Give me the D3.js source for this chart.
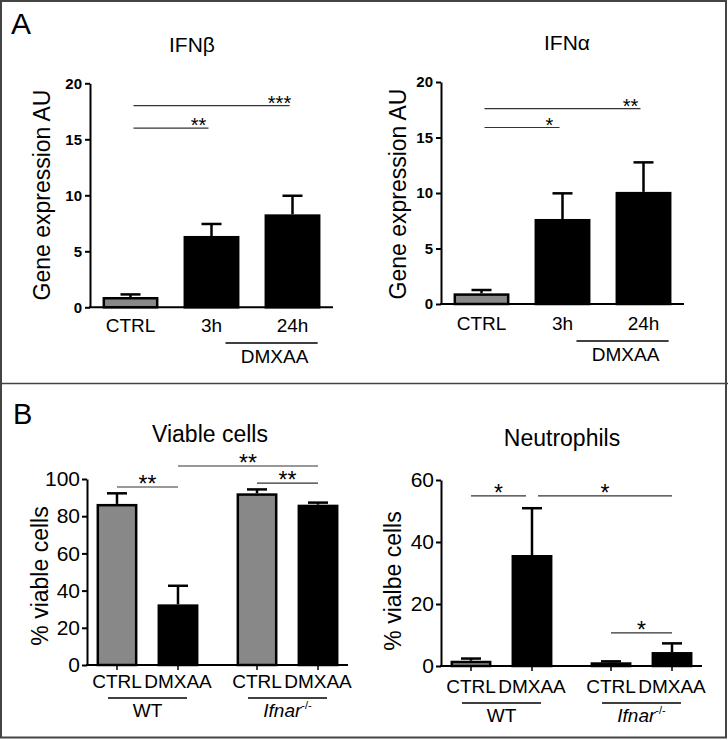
<!DOCTYPE html>
<html><head><meta charset="utf-8">
<script src="https://cdn.jsdelivr.net/npm/d3@7"></script>
<style>
body{margin:0;background:#fff}
svg{display:block}
text{font-family:"Liberation Sans",Arial,Helvetica,sans-serif;fill:#000}
</style>
</head><body>
<svg id="chart" width="728" height="740"></svg>
<script>
// ---------- DATA ----------
const ifnCategories = ["CTRL", "3h", "24h"];
const ifnTicks = [0, 5, 10, 15, 20];
const ifnbMeans = [0.92, 6.37, 8.30];
const ifnbSem = [0.23, 1.07, 1.66];
const ifnaMeans = [0.96, 7.66, 10.10];
const ifnaSem = [0.30, 2.31, 2.66];
// [fromIndex, toIndex, level (data units), label]
const ifnbSig = [[0, 2, 18.0, "***"], [0, 1, 16.0, "**"]];
const ifnaSig = [[0, 2, 17.6, "**"], [0, 1, 15.9, "*"]];
const ifnGroupName = "DMXAA";
const ifnGroupMembers = ["3h", "24h"];

const genotypes = ["WT", "Ifnar-/-"];
const treatments = ["CTRL", "DMXAA"];
const viableTicks = [0, 20, 40, 60, 80, 100];
const viableMeans = [86.6, 32.6, 92.3, 86.2];
const viableSem = [5.7, 10.0, 2.1, 1.1];
const viableSig = [[0, 1, 95.7, "**"], [1, 3, 107, "**"], [2, 3, 97.8, "**"]];
const neutroTicks = [0, 20, 40, 60];
const neutroMeans = [1.7, 35.8, 1.2, 4.5];
const neutroSem = [0.7, 15.1, 0.3, 2.8];
const neutroSig = [[0, 1, 54.9, "*"], [1, 3, 54.9, "*"], [2, 3, 10.7, "*"]];

// ---------- STYLE ----------
const GRAY = "#888888";
const fillFor = c => (c === "CTRL" ? GRAY : "#000");

const svg = d3.select("#chart");

// frame + divider
svg.append("rect").attr("x", 1).attr("y", 1).attr("width", 725).attr("height", 736.5)
  .attr("fill", "none").attr("stroke", "#444").attr("stroke-width", 2);
svg.append("line").attr("x1", 0).attr("x2", 728).attr("y1", 383.5).attr("y2", 383.5)
  .attr("stroke", "#444").attr("stroke-width", 1.5);
svg.append("text").attr("x", 11).attr("y", 34).attr("font-size", 30).text("A");
svg.append("text").attr("x", 13).attr("y", 424).attr("font-size", 29).text("B");

function errBar(g, cx, yTop, yErr, cap) {
  g.append("line").attr("x1", cx).attr("x2", cx).attr("y1", yTop).attr("y2", yErr)
    .attr("stroke", "#000").attr("stroke-width", 2.5);
  g.append("line").attr("x1", cx - cap).attr("x2", cx + cap).attr("y1", yErr).attr("y2", yErr)
    .attr("stroke", "#000").attr("stroke-width", 2.5);
}

// endpoints shared by two brackets at the same level get pulled apart a little
function sigEnds(sig, i, cx) {
  const [a, b, lvl] = sig[i];
  let x1 = cx(a), x2 = cx(b);
  sig.forEach((s, j) => {
    if (j === i || s[2] !== lvl) return;
    if (s[1] === a) x1 += 6;
    if (s[0] === b) x2 -= 6;
  });
  return [x1, x2];
}

// ---------- PANEL A ----------
function drawA(cfg) {
  const g = svg.append("g");
  const x = d3.scaleBand().domain(ifnCategories).range([cfg.left, cfg.right])
    .paddingInner(0.31).paddingOuter(0.155);
  const y = d3.scaleLinear().domain([0, 20]).range([cfg.bottom, cfg.top]);
  const cx = c => x(c) + x.bandwidth() / 2;

  g.append("text").attr("x", cfg.titleX).attr("y", cfg.titleY).attr("text-anchor", "middle")
    .attr("font-size", 21).text(cfg.title);

  g.append("text").attr("transform", `translate(${cfg.ytX},${cfg.ytY}) rotate(-90)`)
    .attr("text-anchor", "middle").attr("font-size", 23).text("Gene expression AU");

  ifnCategories.forEach((c, i) => {
    const m = cfg.means[i], s = cfg.sem[i];
    errBar(g, cx(c), y(m), y(m + s), 10);
    g.append("rect").attr("x", x(c) + 1.25).attr("y", y(m) + 1.25)
      .attr("width", x.bandwidth() - 2.5).attr("height", y(0) - y(m) - 1.25)
      .attr("fill", fillFor(c)).attr("stroke", "#000").attr("stroke-width", 2.5);
  });

  const ax = g.append("g").attr("transform", `translate(${cfg.left},0)`)
    .call(d3.axisLeft(y).tickValues(ifnTicks).tickSize(5).tickSizeOuter(0).tickPadding(3));
  ax.select(".domain").attr("stroke-width", 2);
  ax.selectAll(".tick line").attr("stroke-width", 2);
  ax.selectAll("text").attr("font-size", 15).attr("font-weight", "bold")
    .attr("font-family", "'Liberation Sans',Arial,sans-serif");
  g.append("line").attr("x1", cfg.left - 1).attr("x2", cfg.right).attr("y1", y(0)).attr("y2", y(0))
    .attr("stroke", "#000").attr("stroke-width", 2);

  ifnCategories.forEach(c => {
    g.append("text").attr("x", cx(c)).attr("y", cfg.labelY).attr("text-anchor", "middle")
      .attr("font-size", 19).text(c);
  });
  const gx1 = cx(ifnGroupMembers[0]) + x.bandwidth() * 0.25;
  const gx2 = cx(ifnGroupMembers[ifnGroupMembers.length - 1]) + x.bandwidth() * 0.45;
  g.append("line").attr("x1", gx1).attr("x2", gx2).attr("y1", cfg.labelY + 11).attr("y2", cfg.labelY + 11)
    .attr("stroke", "#000").attr("stroke-width", 1.5);
  g.append("text").attr("x", (gx1 + gx2) / 2 + 3).attr("y", cfg.labelY + 31).attr("text-anchor", "middle")
    .attr("font-size", 19).text(ifnGroupName);

  cfg.sig.forEach(([a, b, lvl, lab]) => {
    const x1 = cx(ifnCategories[a]) + 3, x2 = cx(ifnCategories[b]) - 3;
    g.append("line").attr("x1", x1).attr("x2", x2).attr("y1", y(lvl)).attr("y2", y(lvl))
      .attr("stroke", "#333").attr("stroke-width", 1.2);
    g.append("text").attr("x", x2 - 10).attr("y", y(lvl) + 4).attr("text-anchor", "middle")
      .attr("font-size", 20).text(lab);
  });
}

drawA({left: 90, right: 333, top: 83.3, bottom: 307.3, title: "IFNβ", titleX: 192, titleY: 52,
  ytX: 50, ytY: 195, labelY: 332, means: ifnbMeans, sem: ifnbSem, sig: ifnbSig});
drawA({left: 441, right: 684, top: 82, bottom: 304, title: "IFNα", titleX: 567, titleY: 50,
  ytX: 406, ytY: 194, labelY: 330, means: ifnaMeans, sem: ifnaSem, sig: ifnaSig});

// ---------- PANEL B ----------
function drawB(cfg) {
  const g = svg.append("g");
  const xo = d3.scalePoint().domain(genotypes).range([cfg.left, cfg.right]).padding(0.432);
  const xi = d3.scaleBand().domain(treatments).range([-61, 61]).paddingInner(0.33).paddingOuter(0.165);
  const y = d3.scaleLinear().domain([0, cfg.max]).range([cfg.bottom, cfg.top]);
  const idx = i => ({geno: genotypes[Math.floor(i / 2)], trt: treatments[i % 2]});
  const cx = i => { const d = idx(i); return xo(d.geno) + xi(d.trt) + xi.bandwidth() / 2; };
  const n = genotypes.length * treatments.length;

  g.append("text").attr("x", cfg.titleX).attr("y", cfg.titleY).attr("text-anchor", "middle")
    .attr("font-size", 23).text(cfg.title);
  g.append("text").attr("transform", `translate(${cfg.ytX},${cfg.ytY}) rotate(-90)`)
    .attr("text-anchor", "middle").attr("font-size", 23).text(cfg.ytitle);

  d3.range(n).forEach(i => {
    const m = cfg.means[i], s = cfg.sem[i], d = idx(i);
    const bx = xo(d.geno) + xi(d.trt);
    errBar(g, cx(i), y(m), y(m + s), 10);
    g.append("rect").attr("x", bx + 1.25).attr("y", y(m) + 1.25)
      .attr("width", xi.bandwidth() - 2.5).attr("height", Math.max(0, y(0) - y(m) - 1.25))
      .attr("fill", fillFor(d.trt)).attr("stroke", "#000").attr("stroke-width", 2.5);
    g.append("line").attr("x1", cx(i)).attr("x2", cx(i)).attr("y1", y(0)).attr("y2", y(0) + 5)
      .attr("stroke", "#000").attr("stroke-width", 1.5);
    g.append("text").attr("x", cx(i)).attr("y", cfg.labelY).attr("text-anchor", "middle")
      .attr("font-size", 19).text(d.trt);
  });

  const ax = g.append("g").attr("transform", `translate(${cfg.left},0)`)
    .call(d3.axisLeft(y).tickValues(cfg.ticks).tickSize(5).tickSizeOuter(0).tickPadding(2));
  ax.select(".domain").attr("stroke-width", 2);
  ax.selectAll(".tick line").attr("stroke-width", 2);
  ax.selectAll("text").attr("font-size", 21)
    .attr("font-family", "'Liberation Sans',Arial,sans-serif");
  g.append("line").attr("x1", cfg.left - 1).attr("x2", cfg.right).attr("y1", y(0)).attr("y2", y(0))
    .attr("stroke", "#000").attr("stroke-width", 2);

  genotypes.forEach(gn => {
    const c = xo(gn);
    g.append("line").attr("x1", c - 39.5).attr("x2", c + 39.5)
      .attr("y1", cfg.labelY + 10).attr("y2", cfg.labelY + 10)
      .attr("stroke", "#000").attr("stroke-width", 1.5);
    const t = g.append("text").attr("x", c).attr("y", cfg.labelY + 29).attr("text-anchor", "middle")
      .attr("font-size", 19);
    const m = gn.match(/^(\w+)(.*)$/);
    if (m[2]) {
      t.append("tspan").attr("font-style", "italic").text(m[1]);
      t.append("tspan").attr("font-size", 11).attr("dy", -8).text(m[2]);
    } else t.text(gn);
  });

  cfg.sig.forEach((s, i) => {
    const [, , lvl, lab] = s;
    const [x1, x2] = sigEnds(cfg.sig, i, cx);
    g.append("line").attr("x1", x1).attr("x2", x2).attr("y1", y(lvl)).attr("y2", y(lvl))
      .attr("stroke", "#333").attr("stroke-width", 1.2);
    g.append("text").attr("x", (x1 + x2) / 2).attr("y", y(lvl) + 5).attr("text-anchor", "middle")
      .attr("font-size", 23).text(lab);
  });
}

drawB({left: 87, right: 348, top: 479, bottom: 665, max: 100, ticks: viableTicks,
  title: "Viable cells", titleX: 210, titleY: 442, ytitle: "% viable cells", ytX: 48, ytY: 576,
  labelY: 688, means: viableMeans, sem: viableSem, sig: viableSig});
drawB({left: 441, right: 702, top: 480, bottom: 666, max: 60, ticks: neutroTicks,
  title: "Neutrophils", titleX: 562, titleY: 446, ytitle: "% vialbe cells", ytX: 401, ytY: 581,
  labelY: 693, means: neutroMeans, sem: neutroSem, sig: neutroSig});
</script>
</body></html>
